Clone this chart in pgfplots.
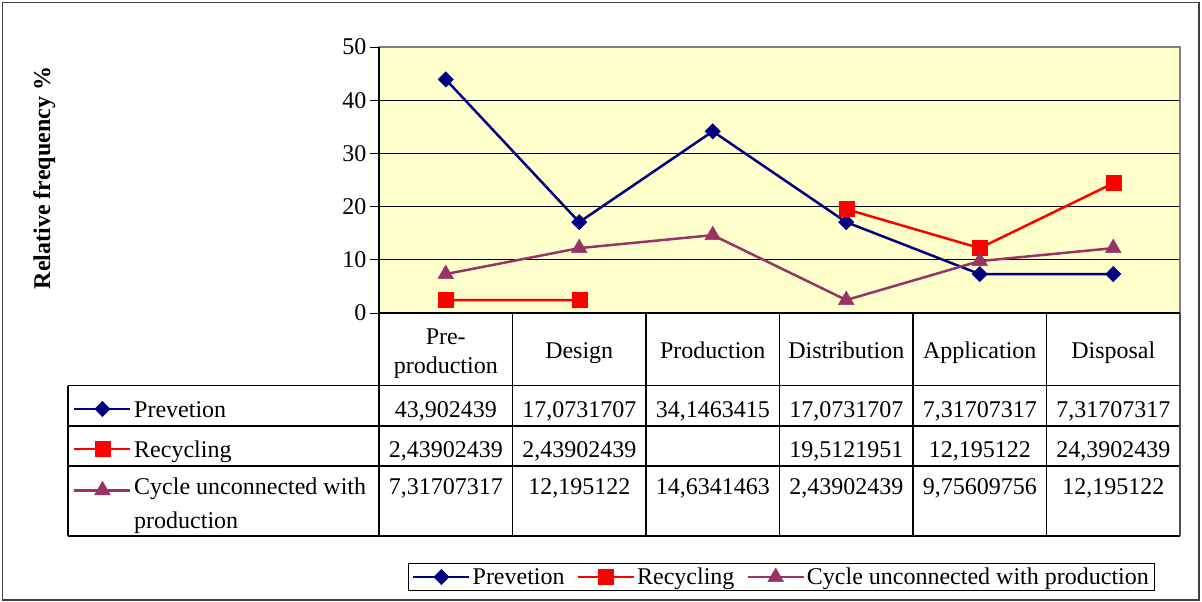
\documentclass[border=0pt]{standalone}
\usepackage{pgfplots}
\pgfplotsset{compat=1.18}
\usepackage{fontspec}
\setmainfont{Liberation Serif}
\definecolor{navyb}{HTML}{000080}
\definecolor{redr}{HTML}{FF0000}
\definecolor{plum}{HTML}{993366}
\definecolor{bgyel}{HTML}{FFFFCC}
\newcommand{\bigf}{\fontsize{24}{29}\selectfont}
\pgfplotsset{
  keyimg/.style={legend image code/.code={\draw[mark repeat=2,mark phase=2,##1] plot coordinates {(0pt,0pt) (28pt,0pt) (56pt,0pt)};}},
  prevstyle/.style={navyb, line width=2.5pt, mark=square*, mark size=5.4pt, mark options={rotate=45, solid, fill=navyb, draw=navyb, line width=0.5pt}},
  recstyle/.style={redr, line width=2.5pt, mark=square*, mark size=7.5pt, mark options={solid, fill=redr, draw=redr, line width=0.5pt}},
  cycstyle/.style={plum, line width=2.5pt, mark=triangle*, mark size=9pt, mark options={solid, fill=plum, draw=plum, line width=0.5pt}},
  keyaxis/.style={hide axis, scale only axis, width=801pt, height=266pt, at={(379pt,-313pt)}, anchor=south west,
    xmin=0, xmax=1, ymin=0, ymax=1, keyimg,
    legend style={draw=none, fill=none, inner sep=0pt, nodes={inner sep=0pt}, anchor=west}},
}
\begin{document}
\begin{tikzpicture}
\useasboundingbox (0pt,0pt) rectangle (1202pt,-602pt);
\draw[line width=1.5pt, black!75] (2.5pt,-2.5pt) rectangle (1199pt,-600pt);
\begin{axis}[
  scale only axis, width=801pt, height=266pt,
  at={(379pt,-313pt)}, anchor=south west,
  xmin=-0.5, xmax=5.5, ymin=0, ymax=50,
  ytick={0,10,20,30,40,50}, xtick={0,1,2,3,4,5},
  xticklabels={{\strut Pre-\\\strut production},{\strut Design},{\strut Production},{\strut Distribution},{\strut Application},{\strut Disposal}},
  xticklabel style={anchor=center, yshift=-31pt, text width=128pt, align=center, font=\bigf},
  x tick style={draw=none},
  ytick pos=left, tick align=outside, y tick style={black, line width=1pt}, major tick length=9pt,
  yticklabel style={font=\bigf},
  /pgf/number format/assume math mode=true,
  ymajorgrids, grid style={black, line width=1pt},
  axis background/.style={fill=bgyel},
  axis line style={draw=gray, line width=1.5pt},
  ylabel={Relative frequency \%},
  ylabel style={font=\bigf\bfseries, at={(axis description cs:-0.418,0.5075)}, anchor=center},
  unbounded coords=jump,
  legend columns=3, keyimg,
  legend style={at={(axis description cs:0.5025,-0.9925)}, anchor=center, font=\bigf, draw=black, line width=1pt,
    inner xsep=4pt, inner ysep=2pt, nodes={inner sep=2pt},
    /tikz/every even column/.append style={column sep=10pt}},
  clip=false,
]
\addplot[prevstyle] coordinates {(0,43.902439) (1,17.0731707) (2,34.1463415) (3,17.0731707) (4,7.31707317) (5,7.31707317)};
\addlegendentry{Prevetion}
\addplot[recstyle] coordinates {(0,2.43902439) (1,2.43902439) (2,nan) (3,19.5121951) (4,12.195122) (5,24.3902439)};
\addlegendentry{Recycling}
\addplot[cycstyle] coordinates {(0,7.31707317) (1,12.195122) (2,14.6341463) (3,2.43902439) (4,9.75609756) (5,12.195122)};
\addlegendentry{Cycle unconnected with production}
\draw[black, line width=1.5pt] (rel axis cs:0,1) -- (rel axis cs:0,0) -- (rel axis cs:1,0);
\end{axis}
% table keys
\begin{axis}[keyaxis, legend style={at={(axis description cs:-0.38202,-0.3609)}}]
\addlegendimage{prevstyle}\addlegendentry{}
\end{axis}
\begin{axis}[keyaxis, legend style={at={(axis description cs:-0.38202,-0.5113)}}]
\addlegendimage{recstyle}\addlegendentry{}
\end{axis}
\begin{axis}[keyaxis, legend style={at={(axis description cs:-0.38202,-0.6579)}}]
\addlegendimage{cycstyle}\addlegendentry{}
\end{axis}
% table grid
\begin{scope}[line width=1.2pt, black]
\draw (68pt,-385.5pt) -- (1180pt,-385.5pt);
\draw (68pt,-426pt) -- (1180pt,-426pt);
\draw (68pt,-466pt) -- (1180pt,-466pt);
\draw (68pt,-536pt) -- (1180pt,-536pt);
\draw (68pt,-385.5pt) -- (68pt,-536pt);
\draw (379pt,-313pt) -- (379pt,-536pt);
\foreach \xx in {512.5,646,779.5,913,1046.5} {\draw (\xx pt,-313pt) -- (\xx pt,-536pt);}
\draw[gray!60!black] (1180pt,-313pt) -- (1180pt,-536pt);
\end{scope}
\begin{scope}[every node/.style={font=\bigf, inner sep=0pt}]
\node[anchor=base west] at (134pt,-417pt) {Prevetion};
\node[anchor=base west] at (134pt,-457pt) {Recycling};
\node[anchor=base west] at (134pt,-494pt) {Cycle unconnected with};
\node[anchor=base west] at (134pt,-528pt) {production};
\foreach \xc/\va/\vb/\vc in {445.75/{43,902439}/{2,43902439}/{7,31707317},
  579.25/{17,0731707}/{2,43902439}/{12,195122},
  712.75/{34,1463415}/{}/{14,6341463},
  846.25/{17,0731707}/{19,5121951}/{2,43902439},
  979.75/{7,31707317}/{12,195122}/{9,75609756},
  1113.25/{7,31707317}/{24,3902439}/{12,195122}} {
  \node[anchor=base] at (\xc pt,-417pt) {\va};
  \node[anchor=base] at (\xc pt,-457pt) {\vb};
  \node[anchor=base] at (\xc pt,-494pt) {\vc};
}
\end{scope}
\end{tikzpicture}
\end{document}
